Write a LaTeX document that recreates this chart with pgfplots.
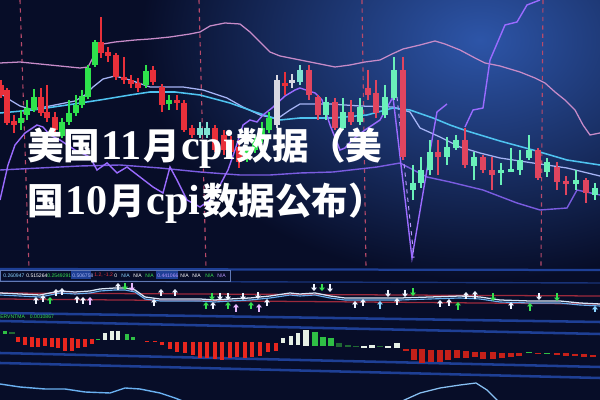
\documentclass[border=0pt]{standalone}
\usepackage{pgfplots}
\pgfplotsset{compat=1.18}
\usetikzlibrary{arrows.meta}
\usepackage{fontspec}
\newfontfamily\cjk{Noto Sans CJK SC}
\newfontfamily\lat{Liberation Serif}
\newfontfamily\uisans{Liberation Sans}
\definecolor{bg}{HTML}{070D28}
\definecolor{glow}{HTML}{2D55A8}
\definecolor{pinkband}{HTML}{C78BC8}
\definecolor{periw}{HTML}{A6B4F5}
\definecolor{cyanline}{HTML}{4FC3F0}
\definecolor{purpband}{HTML}{7A5CE0}
\definecolor{violet}{HTML}{9A6BFF}
\definecolor{dashred}{HTML}{B84A6A}
\definecolor{Ra}{HTML}{E8303A}
\definecolor{Ga}{HTML}{2EE24C}
\definecolor{Ca}{HTML}{7FE3D2}
\definecolor{Wa}{HTML}{D8D8E2}
\definecolor{Rb}{HTML}{E0455F}
\definecolor{Cb}{HTML}{6AF0BA}
\definecolor{hred}{HTML}{E8261E}
\definecolor{hwhite}{HTML}{E6F0E6}
\definecolor{hgreen}{HTML}{2FBF45}
\definecolor{hdgreen}{HTML}{1F6A33}
\definecolor{band}{HTML}{1E3F95}
\definecolor{awhite}{HTML}{F0F4FF}
\definecolor{agreen}{HTML}{35E050}
\definecolor{apink}{HTML}{E8B8FF}
\definecolor{acyan}{HTML}{8AD4FF}
\definecolor{indred}{HTML}{9C2A3C}
\definecolor{indwhite}{HTML}{D8E6F8}
\definecolor{indcyan}{HTML}{6AB0F0}
\newcommand{\Cj}[1]{{\cjk\bfseries\fontsize{26}{30}\selectfont #1}}
\newcommand{\Lt}[1]{\kern1pt{\lat\bfseries\fontsize{30}{32}\selectfont #1}\kern1pt}
\newcommand{\lineone}{\Cj{美国}\Lt{11}\Cj{月}\Lt{cpi}\Cj{数据（美}}
\newcommand{\linetwo}{\Cj{国}\Lt{10}\Cj{月}\Lt{cpi}\Cj{数据公布）}}
\newcommand{\info}[2]{\node[anchor=west,inner sep=0,text=#1,font=\uisans\fontsize{3.6}{4}\selectfont] at (axis cs:#2) }
\begin{document}
\begin{tikzpicture}
\begin{scope}[shift={(0,10cm)},x=0.025cm,y=-0.025cm]
\fill[bg] (0,0) rectangle (600,400);
\clip (0,0) rectangle (600,400);
\shade[inner color=glow, outer color=bg] (480,40) ellipse (340 and 240);
\end{scope}
\begin{axis}[at={(0,0)}, anchor=south west, scale only axis, width=15cm, height=10cm,
  xmin=0, xmax=600, ymin=0, ymax=400, y dir=reverse, hide axis, clip=true,
  unbounded coords=jump]
% dashed verticals
\addplot[dashred, dashed, line width=0.8pt] coordinates {(20,0)(29,268)(29,nan)(199,0)(206,268)(206,nan)(362,0)(366,268)(366,nan)(543,0)(541,268)};
% bands
\addplot[pinkband, line width=0.9pt] coordinates {(0,63)(20,62)(40,64)(60,66)(80,68)(88,67)(97,50)(103,44)(115,42)(135,40)(150,39)(170,37)(190,34)(200,32)(210,26)(225,23)(240,24)(250,32)(260,42)(270,52)(280,56)(300,60)(320,64)(335,67)(350,65)(365,62)(380,60)(392,54)(403,49)(420,45)(435,41)(445,44)(460,50)(475,58)(485,63)(500,66)(520,72)(535,78)(545,83)(555,92)(565,100)(575,110)(583,125)(590,135)(600,133)};
\addplot[periw, line width=0.9pt] coordinates {(0,93)(10,100)(20,106)(30,109)(45,107)(60,104)(75,101)(85,95)(93,87)(103,79)(115,76)(130,80)(150,87)(183,87)(203,90)(227,98)(243,107)(260,115)(277,119)(290,110)(300,104)(330,104)(360,106)(393,107)(410,112)(420,128)(440,137)(460,147)(480,153)(500,158)(533,163)(567,168)(600,176)};
\addplot[cyanline, line width=1.1pt] coordinates {(0,113)(33,110)(67,105)(100,100)(130,95)(150,92)(175,92)(200,95)(230,103)(255,112)(280,120)(300,118)(333,118)(367,115)(393,108)(410,110)(433,118)(450,125)(467,131)(500,141)(533,150)(567,160)(600,165)};
\addplot[purpband, line width=1pt] coordinates {(0,170)(40,168)(80,166)(120,165)(160,168)(200,172)(240,175)(270,175)(300,173)(333,172)(377,167)(400,163)(427,177)(450,182)(483,190)(517,203)(540,210)(567,208)(577,190)(600,195)};
\addplot[violet, line width=1pt] coordinates {(0,200)(8,165)(15,145)(25,133)(37,125)(43,127)(50,135)(60,140)(75,150)(90,157)(97,170)(107,163)(117,173)(127,167)(140,177)(153,187)(163,193)(170,167)(177,180)(187,200)(200,207)(210,200)(220,185)(228,170)(235,150)(243,125)(250,120)(257,122)(263,115)(272,108)(285,96)(295,90)(300,88)(315,93)(322,100)(330,125)(340,150)(345,148)(352,140)(365,130)(380,120)(393,97)(412,258)(432,140)(437,112)(447,104)};
\addplot[violet!70!white, line width=0.7pt, dashed] coordinates {(397,97)(414,258)};
\addplot[violet, line width=1pt] coordinates {(465,127)(473,110)(483,108)(490,60)(505,25)(517,22)(527,5)(540,0)};
% candle wicks and bodies
\addplot[Ra, line width=0.8pt] coordinates {(1,80)(1,98)(1,nan)(7,88)(7,125)(7,nan)(14,115)(14,133)(14,nan)(41,88)(41,116)(41,nan)(47,85)(47,122)(47,nan)(55,112)(55,135)(55,nan)(101,17)(101,58)(101,nan)(108,47)(108,62)(108,nan)(116,53)(116,80)(116,nan)(124,57)(124,84)(124,nan)(131,75)(131,88)(131,nan)(138,78)(138,92)(138,nan)(153,66)(153,85)(153,nan)(162,84)(162,112)(162,nan)(177,95)(177,110)(177,nan)(184,100)(184,132)(184,nan)(192,125)(192,138)(192,nan)(215,125)(215,152)(215,nan)(224,130)(224,155)(224,nan)(231,136)(231,156)(231,nan)(239,140)(239,168)(239,nan)(285,72)(285,95)};
\addplot[Ra, line width=3.6pt] coordinates {(1,85)(1,95)(1,nan)(7,90)(7,123)(7,nan)(14,121)(14,125)(14,nan)(41,97)(41,113)(41,nan)(47,112)(47,118)(47,nan)(55,117)(55,130)(55,nan)(101,42)(101,53)(101,nan)(108,52)(108,56)(108,nan)(116,55)(116,77)(116,nan)(124,77)(124,80)(124,nan)(131,80)(131,84)(131,nan)(138,83)(138,88)(138,nan)(153,70)(153,82)(153,nan)(162,87)(162,105)(162,nan)(177,100)(177,103)(177,nan)(184,103)(184,130)(184,nan)(192,128)(192,135)(192,nan)(215,128)(215,150)(215,nan)(224,135)(224,150)(224,nan)(231,140)(231,152)(231,nan)(239,147)(239,162)(239,nan)(285,83)(285,86)};
\addplot[Ga, line width=0.8pt] coordinates {(21,110)(21,130)(21,nan)(27,100)(27,120)(27,nan)(34,89)(34,112)(34,nan)(62,118)(62,138)(62,nan)(69,100)(69,125)(69,nan)(76,95)(76,116)(76,nan)(82,90)(82,108)(82,nan)(88,65)(88,99)(88,nan)(95,40)(95,67)(95,nan)(146,65)(146,88)(146,nan)(169,95)(169,110)(169,nan)(247,146)(247,162)(247,nan)(255,135)(255,153)(255,nan)(262,122)(262,143)(262,nan)(269,112)(269,133)};
\addplot[Ga, line width=3.6pt] coordinates {(21,118)(21,123)(21,nan)(27,108)(27,115)(27,nan)(34,97)(34,110)(34,nan)(62,122)(62,136)(62,nan)(69,113)(69,122)(69,nan)(76,105)(76,113)(76,nan)(82,96)(82,105)(82,nan)(88,68)(88,97)(88,nan)(95,42)(95,65)(95,nan)(146,71)(146,85)(146,nan)(169,100)(169,104)(169,nan)(247,150)(247,158)(247,nan)(255,140)(255,150)(255,nan)(262,128)(262,140)(262,nan)(269,118)(269,130)};
\addplot[Ca, line width=0.8pt] coordinates {(200,122)(200,138)(200,nan)(207,122)(207,138)(207,nan)(300,65)(300,85)};
\addplot[Ca, line width=3.6pt] coordinates {(200,128)(200,135)(200,nan)(207,128)(207,135)(207,nan)(300,70)(300,82)};
\addplot[Wa, line width=0.8pt] coordinates {(277,75)(277,128)(277,nan)(292,74)(292,88)};
\addplot[Wa, line width=3.6pt] coordinates {(277,80)(277,125)(277,nan)(292,80)(292,83)};
\addplot[Rb, line width=0.8pt] coordinates {(309,65)(309,100)(309,nan)(318,95)(318,120)(318,nan)(335,98)(335,130)(335,nan)(351,100)(351,125)(351,nan)(368,70)(368,100)(368,nan)(376,80)(376,118)(376,nan)(403,57)(403,160)(403,nan)(438,140)(438,175)(438,nan)(465,128)(465,168)(465,nan)(483,155)(483,173)(483,nan)(492,157)(492,190)(492,nan)(538,148)(538,180)(538,nan)(557,162)(557,190)(557,nan)(566,176)(566,195)(566,nan)(586,178)(586,203)};
\addplot[Rb, line width=4.3pt] coordinates {(309,70)(309,95)(309,nan)(318,97)(318,115)(318,nan)(335,102)(335,128)(335,nan)(351,112)(351,122)(351,nan)(368,88)(368,95)(368,nan)(376,93)(376,113)(376,nan)(403,70)(403,157)(403,nan)(438,152)(438,157)(438,nan)(465,140)(465,165)(465,nan)(483,157)(483,170)(483,nan)(492,170)(492,175)(492,nan)(538,150)(538,178)(538,nan)(557,167)(557,182)(557,nan)(566,181)(566,184)(566,nan)(586,180)(586,193)};
\addplot[Cb, line width=0.8pt] coordinates {(326,97)(326,120)(326,nan)(343,98)(343,130)(343,nan)(360,98)(360,125)(360,nan)(385,85)(385,118)(385,nan)(394,57)(394,100)(394,nan)(413,165)(413,200)(413,nan)(421,157)(421,188)(421,nan)(430,140)(430,175)(430,nan)(447,137)(447,165)(447,nan)(456,135)(456,150)(456,nan)(474,152)(474,180)(474,nan)(501,163)(501,185)(501,nan)(511,148)(511,172)(511,nan)(520,150)(520,175)(520,nan)(529,135)(529,160)(529,nan)(547,158)(547,177)(547,nan)(576,170)(576,190)(576,nan)(595,183)(595,200)};
\addplot[Cb, line width=4.3pt] coordinates {(326,102)(326,115)(326,nan)(343,112)(343,128)(343,nan)(360,107)(360,122)(360,nan)(385,97)(385,115)(385,nan)(394,70)(394,98)(394,nan)(413,183)(413,190)(413,nan)(421,170)(421,183)(421,nan)(430,152)(430,170)(430,nan)(447,147)(447,157)(447,nan)(456,140)(456,148)(456,nan)(474,157)(474,166)(474,nan)(501,170)(501,173)(501,nan)(511,169.5)(511,172)(511,nan)(520,160)(520,170)(520,nan)(529,150)(529,158)(529,nan)(547,162)(547,172)(547,nan)(576,180)(576,184)(576,nan)(595,188)(595,195)};
% lower panel bands
\addplot[band, line width=1.6pt] coordinates {(0,269)(600,270)};
\addplot[band!80!black, line width=1pt] coordinates {(0,281)(600,283)};
\addplot[band, line width=1.8pt] coordinates {(0,313)(600,322)(600,nan)(0,321)(600,334)(600,nan)(0,353)(600,367)(600,nan)(0,363)(600,378)};
% indicator lines
\addplot[indred, line width=0.9pt] coordinates {(0,293)(600,296)(600,nan)(0,299)(600,304)};
\addplot[indcyan, line width=0.8pt] coordinates {(0,295)(20,296)(40,297)(50,295)(60,293)(75,294)(90,293)(100,291)(115,290)(125,290)(135,292)(145,299)(160,301)(180,301)(200,301)(215,302)(230,301)(250,300)(270,298)(290,295)(300,296)(315,295)(330,298)(345,300)(370,300)(400,300)(430,299)(460,298)(480,299)(500,302)(530,303)(560,303)(580,305)(600,306)};
\addplot[indwhite, line width=0.9pt] coordinates {(0,293)(20,294)(40,295)(50,293)(60,291)(75,292)(90,291)(100,289)(115,288)(125,288)(135,290)(145,297)(160,299)(180,299)(200,299)(215,300)(230,299)(250,298)(270,296)(290,293)(300,294)(315,293)(330,296)(345,298)(370,298)(400,298)(430,297)(460,296)(480,297)(500,300)(530,301)(560,301)(580,303)(600,304)};
% arrows
\addplot[awhite, line width=1pt, -{Triangle[length=2.4pt,width=4pt]}, quiver={u=\thisrow{u},v=\thisrow{v}}] table[row sep=\\] {x y u v\\
36 304 0 -7\\ 43 302 0 -7\\ 56 296 0 -7\\ 62 295 0 -7\\ 77 303 0 -7\\ 83 304 0 -7\\ 118 290 0 -7\\ 154 306 0 -7\\ 161 296 0 -7\\ 175 296 0 -7\\ 213 309 0 -7\\ 267 306 0 -7\\ 355 308 0 -7\\ 363 306 0 -7\\ 397 305 0 -7\\ 440 307 0 -7\\ 449 306 0 -7\\ 466 299 0 -7\\ 475 299 0 -8\\ 511 309 0 -7\\
220 293 0 7\\ 228 293 0 7\\ 243 293 0 7\\ 258 292 0 7\\ 314 284 0 7\\ 330 284 0 8\\ 388 290 0 7\\ 405 290 0 7\\ 539 293 0 7\\};
\addplot[agreen, line width=1pt, -{Triangle[length=2.4pt,width=4pt]}, quiver={u=\thisrow{u},v=\thisrow{v}}] table[row sep=\\] {x y u v\\
50 304 0 -7\\ 206 309 0 -7\\ 228 309 0 -7\\ 251 309 0 -7\\ 458 310 0 -8\\ 530 311 0 -8\\
125 283 0 7\\ 212 293 0 7\\ 322 284 0 7\\ 413 288 0 8\\ 493 293 0 8\\ 557 293 0 8\\};
\addplot[apink, line width=1pt, -{Triangle[length=2.4pt,width=4pt]}, quiver={u=\thisrow{u},v=\thisrow{v}}] table[row sep=\\] {x y u v\\
90 305 0 -8\\ 236 312 0 -8\\ 259 312 0 -8\\ 132 283 0 8\\};
\addplot[acyan, line width=1pt, -{Triangle[length=2.4pt,width=4pt]}, quiver={u=\thisrow{u},v=\thisrow{v}}] table[row sep=\\] {x y u v\\
380 309 0 -8\\ 595 312 0 -6\\};
% histogram
\addplot[hred, line width=3.5pt] coordinates {(18,337)(18,342)(18,nan)(25,337)(25,345)(25,nan)(32,337)(32,347)(32,nan)(38,338)(38,347)(38,nan)(45,338)(45,346)(45,nan)(52,338)(52,347)(52,nan)(58,338)(58,348)(58,nan)(65,338)(65,351)(65,nan)(72,338)(72,351)(72,nan)(78,339)(78,348)(78,nan)(85,339)(85,347)(85,nan)(92,339)(92,344)(92,nan)(147,341)(147,342.5)(147,nan)(155,341)(155,342.5)(155,nan)(162,342)(162,345)(162,nan)(170,342)(170,349)(170,nan)(177,342)(177,352)(177,nan)(185,342)(185,353)(185,nan)(193,342)(193,355)(193,nan)(200,342)(200,358)(200,nan)(207,342)(207,358)(207,nan)(215,342)(215,359)(215,nan)(222,342)(222,360)(222,nan)(230,342)(230,358)(230,nan)(237,342)(237,357)(237,nan)(245,342)(245,358)(245,nan)(252,342)(252,357)(252,nan)(260,342)(260,356)(260,nan)(268,343)(268,352)(268,nan)(276,343)(276,351)};
\addplot[hred!85!black, line width=4.3pt] coordinates {(406,349)(406,351)(406,nan)(414,349)(414,360)(414,nan)(422,349)(422,363)(422,nan)(431,350)(431,362)(431,nan)(440,350)(440,362)(440,nan)(448,350)(448,360)(448,nan)(457,350)(457,358)(457,nan)(466,351)(466,358)(466,nan)(475,352)(475,357)(475,nan)(483,352)(483,359)(483,nan)(493,352)(493,359)(493,nan)(502,353)(502,358)(502,nan)(511,353)(511,357)(511,nan)(519,353)(519,356)(519,nan)(538,353)(538,354.5)(538,nan)(557,353)(557,355)(557,nan)(566,353)(566,356)(566,nan)(575,354)(575,356)(575,nan)(584,354)(584,357)(584,nan)(593,355)(593,357)};
\addplot[hwhite, line width=3.5pt] coordinates {(105,333)(105,340)(105,nan)(112,331)(112,340)(112,nan)(118,331)(118,340)(118,nan)(283,338)(283,343)(283,nan)(291,336)(291,345)(291,nan)(298,333)(298,345)};
\addplot[hwhite, line width=4.3pt] coordinates {(306,330)(306,346)(306,nan)(364,346)(364,348)(364,nan)(372,345)(372,348)(372,nan)(388,346)(388,348)(388,nan)(397,343)(397,348)};
\addplot[hgreen, line width=3.5pt] coordinates {(5,331)(5,334)(5,nan)(98,339)(98,340.5)(98,nan)(127,334)(127,340)(127,nan)(133,337)(133,340)};
\addplot[hgreen, line width=4.3pt] coordinates {(315,332)(315,346)(315,nan)(323,337)(323,346)(323,nan)(331,338)(331,346)(331,nan)(529,352)(529,353.2)(529,nan)(547,353)(547,354)};
\addplot[hdgreen, line width=4.3pt] coordinates {(12,332)(12,334)(12,nan)(339,343)(339,347)(339,nan)(348,345)(348,347)(348,nan)(356,346)(356,347.2)(356,nan)(380,346.5)(380,347.5)};
% bottom curves
\addplot[indcyan, line width=1pt] coordinates {(0,384)(20,387)(45,389)(65,389)(85,392)(110,393)(125,388)(140,389)(160,393)(175,398)(185,402)};
\addplot[indcyan!80!white, line width=0.9pt] coordinates {(400,402)(420,393)(440,388)(460,385)(476,383)(487,390)(497,400)(500,403)};
% info row
\draw[band!70!white, line width=0.4pt] (axis cs:0,270) rectangle (axis cs:230,281);
\fill[band] (axis cs:71,271.5) rectangle (axis cs:91,279.5);
\fill[band] (axis cs:156,271.5) rectangle (axis cs:178,279.5);
\info{acyan}{3,275.5}{0.260947};
\info{white}{26,275.5}{0.515264};
\info{agreen}{47,275.5}{0.2549291};
\info{periw}{72,275.5}{0.506758};
\info{Ra}{94,275.5}{1.2, -1.2};
\info{white}{114,275.5}{0};
\info{acyan}{121,275.5}{N/A};
\info{white}{133,275.5}{N/A};
\info{agreen}{145,275.5}{N/A};
\info{violet!70!white}{157,275.5}{0.441066};
\info{white}{180,275.5}{N/A};
\info{white}{192,275.5}{N/A};
\info{agreen}{205,275.5}{N/A};
\info{violet!70!white}{217,275.5}{N/A};
\info{agreen}{0,317}{ERVNTMA\quad 0.0010867};
% title text
\node[anchor=base west, inner sep=0, text=white] at (axis cs:27,160) {\lineone};
\node[anchor=base west, inner sep=0, text=white] at (axis cs:27,215) {\linetwo};
\end{axis}
\end{tikzpicture}
\end{document}
